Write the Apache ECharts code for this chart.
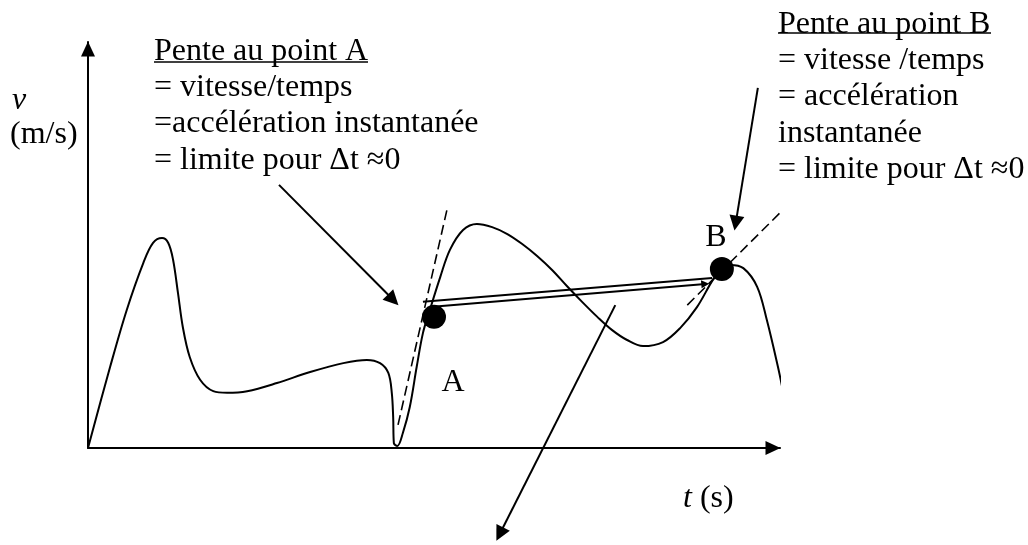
<!DOCTYPE html>
<html>
<head>
<meta charset="utf-8">
<script src="https://cdn.jsdelivr.net/npm/echarts@6/dist/echarts.min.js"></script>
<style>
html,body{margin:0;padding:0;background:#fff;}
#chart{width:1028px;height:545px;}
</style>
</head>
<body>
<div id="chart"></div>
<script>
// ---- data (t and v in arbitrary units, 0..100 along each axis) ----
const curveT = [0, 3.2, 5.6, 8.0, 9.4, 10.7, 11.6, 12.3, 13.0, 13.7, 14.7, 16.2, 18.1, 20.1, 23.0, 27.3, 32.1, 36.9, 40.3, 42.2, 43.4, 43.9, 44.1, 44.2, 44.7, 45.5, 46.5, 47.5, 48.4, 49.4, 50.9, 52.3, 54.2, 56.2, 58.4, 60.6, 62.7, 64.9, 67.1, 69.2, 71.4, 73.6, 75.7, 77.9, 80.2, 83.1, 85.6, 88.0, 90.3, 91.6, 92.8, 94.7, 96.7, 98.1, 99.7, 100.4];
const curveV = [0, 20.0, 34.0, 45.6, 50.5, 51.7, 50.5, 46.3, 38.2, 29.8, 22.4, 16.8, 14.0, 13.6, 14.0, 16.0, 18.7, 20.9, 21.7, 20.9, 18.5, 13.6, 7.6, 1.2, 0.5, 3.7, 10.1, 20.0, 28.3, 34.0, 42.1, 48.8, 53.7, 55.2, 54.4, 52.7, 50.3, 47.3, 43.8, 39.9, 36.0, 32.3, 29.1, 26.6, 25.1, 26.1, 29.6, 34.7, 41.4, 44.1, 45.1, 44.3, 39.7, 31.5, 20.0, 14.3];
const pointA = [50.0, 32.3];
const pointB = [91.6, 44.1];
const tangentA = [[44.8, 5.7], [51.9, 58.9]];
const tangentB = [[86.6, 35.2], [100.4, 58.6]];
const chordUpper = [[48.4, 36.0], [90.2, 41.9]];
const chordLower = [[49.4, 34.7], [89.2, 40.4]];
const arrowA = [[27.6, 64.8], [44.1, 36.5]];
const arrowB = [[96.8, 88.7], [93.6, 55.4]];
const arrowDown = [[76.2, 35.2], [59.5, -21.2]];
const textA = ['Pente au point A', '= vitesse/temps', '=accélération instantanée', '= limite pour \u0394t \u22480'];
const textB = ['Pente au point B', '= vitesse /temps', '= accélération', 'instantanée', '= limite pour \u0394t \u22480'];
const yName = ['v', '(m/s)'];
const xName = ['t', ' (s)'];
const pointNames = ['A', 'B'];

const FONT = '"Liberation Serif", "DejaVu Serif", serif';
const chart = echarts.init(document.getElementById('chart'), null, {renderer: 'canvas'});

const axisCommon = {
  type: 'value', min: 0, max: 100,
  axisLine: {show: true, onZero: true, symbol: ['none', 'triangle'], symbolSize: [14, 15], symbolOffset: [0, -7],
    lineStyle: {color: '#000', width: 2}},
  axisTick: {show: false}, axisLabel: {show: false}, splitLine: {show: false}
};

const option = {
  animation: false,
  backgroundColor: '#fff',
  grid: {left: 88, right: 248, top: 42, bottom: 97, containLabel: false},
  xAxis: Object.assign({}, axisCommon),
  yAxis: Object.assign({}, axisCommon),
  series: [
    {
      type: 'line', data: curveT.map((t, i) => [t, curveV[i]]), smooth: 0.35,
      showSymbol: false, symbol: 'none', clip: false, silent: true,
      lineStyle: {color: '#000', width: 2}
    },
    {
      type: 'lines', coordinateSystem: 'cartesian2d', clip: false, silent: true,
      data: [{coords: tangentA}, {coords: tangentB}], symbol: 'none',
      lineStyle: {color: '#000', width: 1.6, type: [10, 5], opacity: 1}
    },
    {
      type: 'lines', coordinateSystem: 'cartesian2d', clip: false, silent: true,
      data: [{coords: chordUpper}], symbol: 'none',
      lineStyle: {color: '#000', width: 2, opacity: 1}
    },
    {
      type: 'lines', coordinateSystem: 'cartesian2d', clip: false, silent: true,
      data: [{coords: chordLower}], symbol: ['none', 'triangle'], symbolSize: 8,
      lineStyle: {color: '#000', width: 2, opacity: 1}
    },
    {
      type: 'lines', coordinateSystem: 'cartesian2d', clip: false, silent: true,
      data: [{coords: arrowA}, {coords: arrowB}, {coords: arrowDown}],
      symbol: ['none', 'triangle'], symbolSize: 15,
      lineStyle: {color: '#000', width: 2, opacity: 1}
    },
    {
      type: 'scatter', clip: false, silent: true, symbolSize: 24,
      itemStyle: {color: '#000', opacity: 1},
      data: [
        {value: pointA, label: {show: true, formatter: pointNames[0], position: 'inside', offset: [19, 66],
          color: '#000', fontSize: 32, fontFamily: FONT}},
        {value: pointB, label: {show: true, formatter: pointNames[1], position: 'inside', offset: [-6, -31],
          color: '#000', fontSize: 32, fontFamily: FONT}}
      ]
    }
  ],
  graphic: [
    {type: 'text', left: 154, top: 33, silent: true,
      style: {text: textA.join('\n'), fontSize: 32, fontFamily: FONT, fill: '#000', lineHeight: 36.4}},
    {type: 'line', silent: true, shape: {x1: 154, y1: 62, x2: 368, y2: 62}, style: {stroke: '#000', lineWidth: 1.5}},
    {type: 'text', left: 778, top: 6, silent: true,
      style: {text: textB.join('\n'), fontSize: 32, fontFamily: FONT, fill: '#000', lineHeight: 36.4}},
    {type: 'line', silent: true, shape: {x1: 778, y1: 33, x2: 991, y2: 33}, style: {stroke: '#000', lineWidth: 1.5}},
    {type: 'text', left: 12, top: 83, silent: true,
      style: {text: yName[0], fontSize: 32, fontFamily: FONT, fontStyle: 'italic', fill: '#000', lineHeight: 36}},
    {type: 'text', left: 10, top: 117, silent: true,
      style: {text: yName[1], fontSize: 32, fontFamily: FONT, fill: '#000', lineHeight: 36}},
    {type: 'text', left: 683, top: 481, silent: true,
      style: {text: '{i|' + xName[0] + '}' + xName[1], fontSize: 32, fontFamily: FONT, fill: '#000', lineHeight: 36,
        rich: {i: {fontStyle: 'italic', fontSize: 32, fontFamily: FONT, fill: '#000', lineHeight: 36}}}}
  ]
};
chart.setOption(option);
</script>
</body>
</html>
